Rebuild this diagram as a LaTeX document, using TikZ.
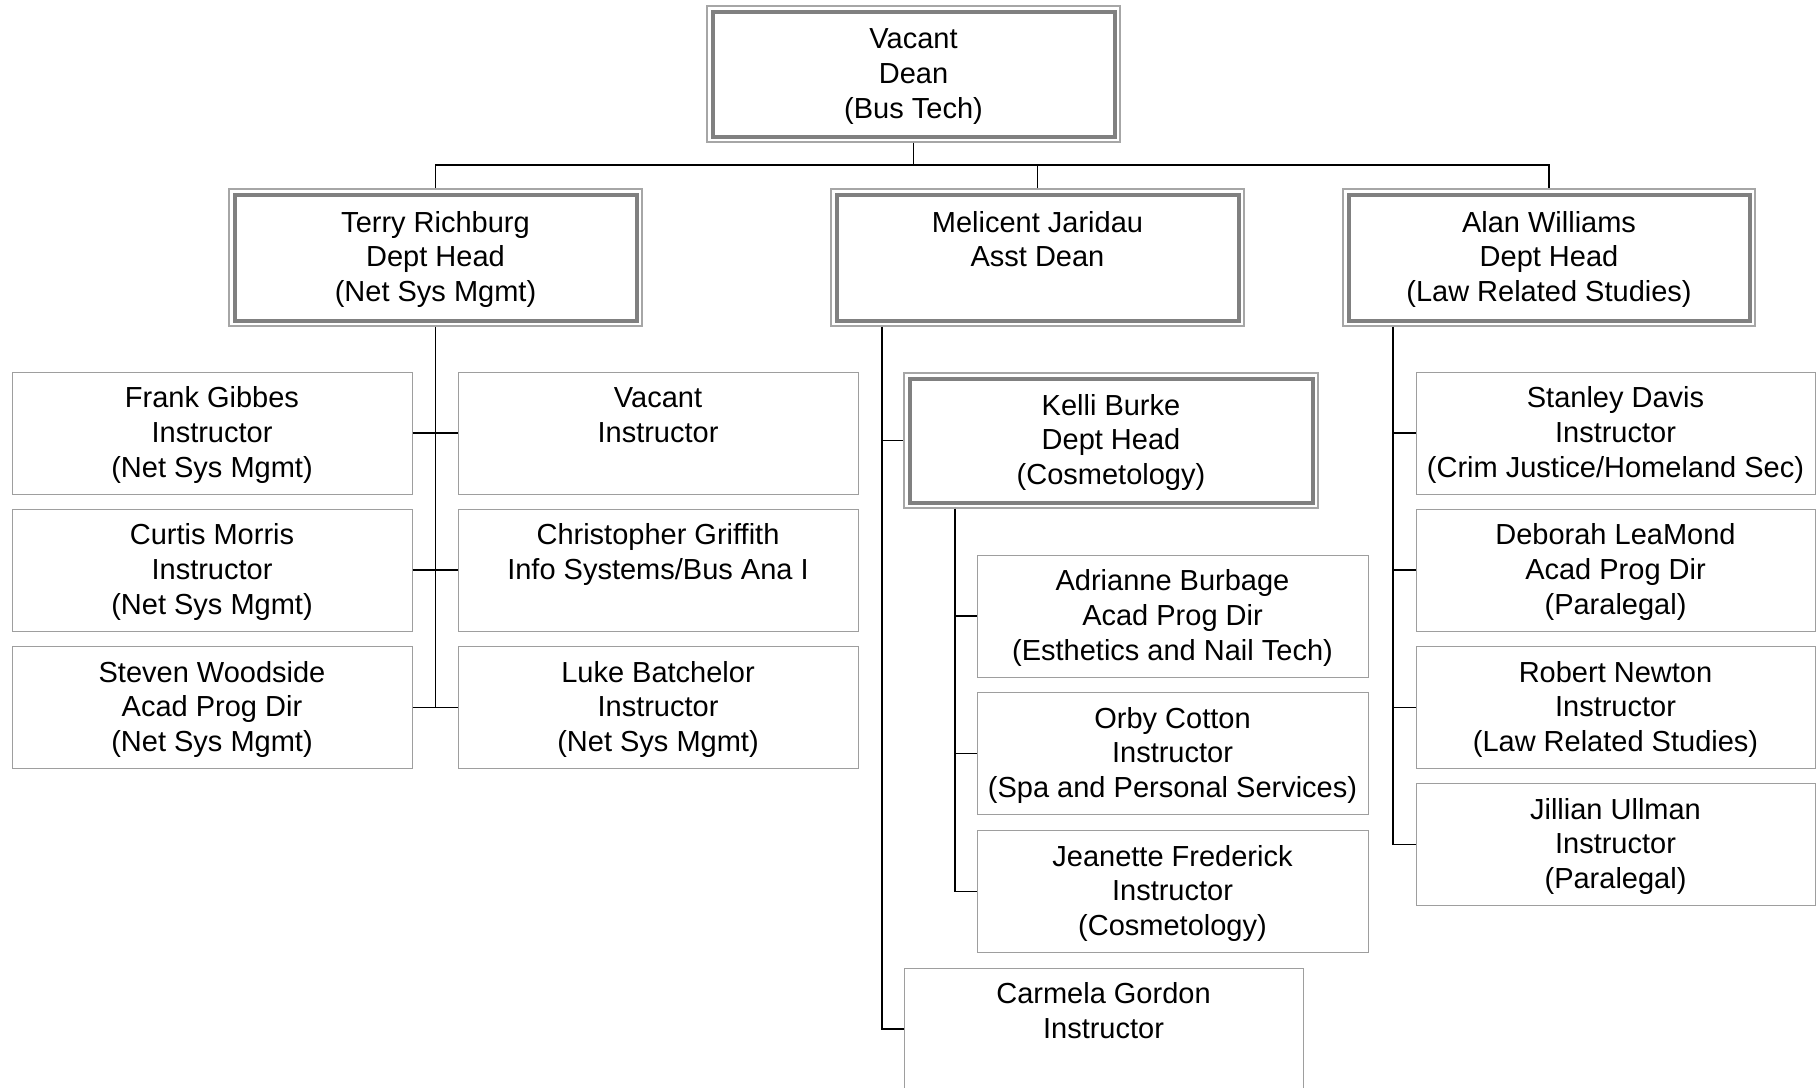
\documentclass[tikz,border=0pt]{standalone}
\usepackage{fontspec}
\setmainfont{Liberation Sans}
\newcommand\threelines[3]{\rule{0pt}{29.2pt}#1\\\strut#2\\\strut#3}
\tikzset{
  base/.style={rectangle, align=center, inner sep=0pt, font=\fontsize{29}{34.6}\selectfont, text=black},
  leaf/.style={base, draw=black!38, line width=1pt, fill=white, minimum width=400pt, minimum height=122pt},
  mgr/.style={base, draw=black!35, line width=1.2pt, fill=white,
    path picture={\draw[black!50, line width=4pt]
      ([shift={(5.5pt,-5.5pt)}]path picture bounding box.north west) rectangle
      ([shift={(-5.5pt,5.5pt)}]path picture bounding box.south east);}},
  link/.style={draw=black, line width=1.6pt},
}
\begin{document}
\begin{tikzpicture}[x=1pt,y=-1pt]
\useasboundingbox (0,0) rectangle (1820,1087);
\clip (0,0) rectangle (1820,1087);
\fill[white] (0,0) rectangle (1820,1087);

% top
\node[mgr, minimum width=413pt, minimum height=136pt] (dean) at (913.5,74) {\threelines{Vacant}{Dean}{(Bus Tech)}};
% level 2
\node[mgr, minimum width=413pt, minimum height=137pt] (terry) at (435.5,257.5) {\threelines{Terry Richburg}{Dept Head}{(Net Sys Mgmt)}};
\node[mgr, minimum width=413pt, minimum height=137pt] (mel) at (1037.5,257.5) {\threelines{Melicent Jaridau}{Asst Dean}{}};
\node[mgr, minimum width=412pt, minimum height=137pt] (alan) at (1549,257.5) {\threelines{Alan Williams}{Dept Head}{(Law Related Studies)}};

% Terry's staff
\node[leaf] (f1) at (212,433) {\threelines{Frank Gibbes}{Instructor}{(Net Sys Mgmt)}};
\node[leaf] (f2) at (212,570) {\threelines{Curtis Morris}{Instructor}{(Net Sys Mgmt)}};
\node[leaf] (f3) at (212,707.5) {\threelines{Steven Woodside}{Acad Prog Dir}{(Net Sys Mgmt)}};
\node[leaf] (v1) at (658,433) {\threelines{Vacant}{Instructor}{}};
\node[leaf] (v2) at (658,570) {\threelines{Christopher Griffith}{Info Systems/Bus Ana I}{}};
\node[leaf] (v3) at (658,707.5) {\threelines{Luke Batchelor}{Instructor}{(Net Sys Mgmt)}};

% Melicent's staff
\node[mgr, minimum width=414pt, minimum height=135pt] (kelli) at (1111,440.5) {\threelines{Kelli Burke}{Dept Head}{(Cosmetology)}};
\node[leaf, minimum width=391pt] (k1) at (1172.5,616) {\threelines{Adrianne Burbage}{Acad Prog Dir}{(Esthetics and Nail Tech)}};
\node[leaf, minimum width=391pt] (k2) at (1172.5,753.5) {\threelines{Orby Cotton}{Instructor}{(Spa and Personal Services)}};
\node[leaf, minimum width=391pt] (k3) at (1172.5,891.5) {\threelines{Jeanette Frederick}{Instructor}{(Cosmetology)}};
\node[leaf, minimum width=399pt] (carm) at (1103.5,1029) {\threelines{Carmela Gordon}{Instructor}{}};

% Alan's staff
\node[leaf, minimum width=399pt] (a1) at (1615.5,433) {\threelines{Stanley Davis}{Instructor}{(Crim Justice/Homeland Sec)}};
\node[leaf, minimum width=399pt] (a2) at (1615.5,570) {\threelines{Deborah LeaMond}{Acad Prog Dir}{(Paralegal)}};
\node[leaf, minimum width=399pt] (a3) at (1615.5,707.5) {\threelines{Robert Newton}{Instructor}{(Law Related Studies)}};
\node[leaf, minimum width=399pt] (a4) at (1615.5,844.5) {\threelines{Jillian Ullman}{Instructor}{(Paralegal)}};

% connectors
\coordinate (busL) at (435.5,165);
\coordinate (busR) at (1549,165);
\coordinate (mx) at (882,0);
\coordinate (kx) at (955,0);
\coordinate (ax) at (1393,0);

\draw[link] (dean.south) -- (dean.south |- busL);
\draw[link] (terry.north) -- (busL) -- (busR) -- (alan.north);
\draw[link] (mel.north) -- (mel.north |- busL);

\draw[link] (terry.south) -- (terry.south |- f3.east);
\draw[link] (f1.east) -- (v1.west);
\draw[link] (f2.east) -- (v2.west);
\draw[link] (f3.east) -- (v3.west);

\draw[link] (mel.south -| mx) |- (carm.west);
\draw[link] (kelli.west -| mx) -- (kelli.west);

\draw[link] (kelli.south -| kx) |- (k3.west);
\draw[link] (k1.west -| kx) -- (k1.west);
\draw[link] (k2.west -| kx) -- (k2.west);

\draw[link] (alan.south -| ax) |- (a4.west);
\draw[link] (a1.west -| ax) -- (a1.west);
\draw[link] (a2.west -| ax) -- (a2.west);
\draw[link] (a3.west -| ax) -- (a3.west);
\end{tikzpicture}
\end{document}
